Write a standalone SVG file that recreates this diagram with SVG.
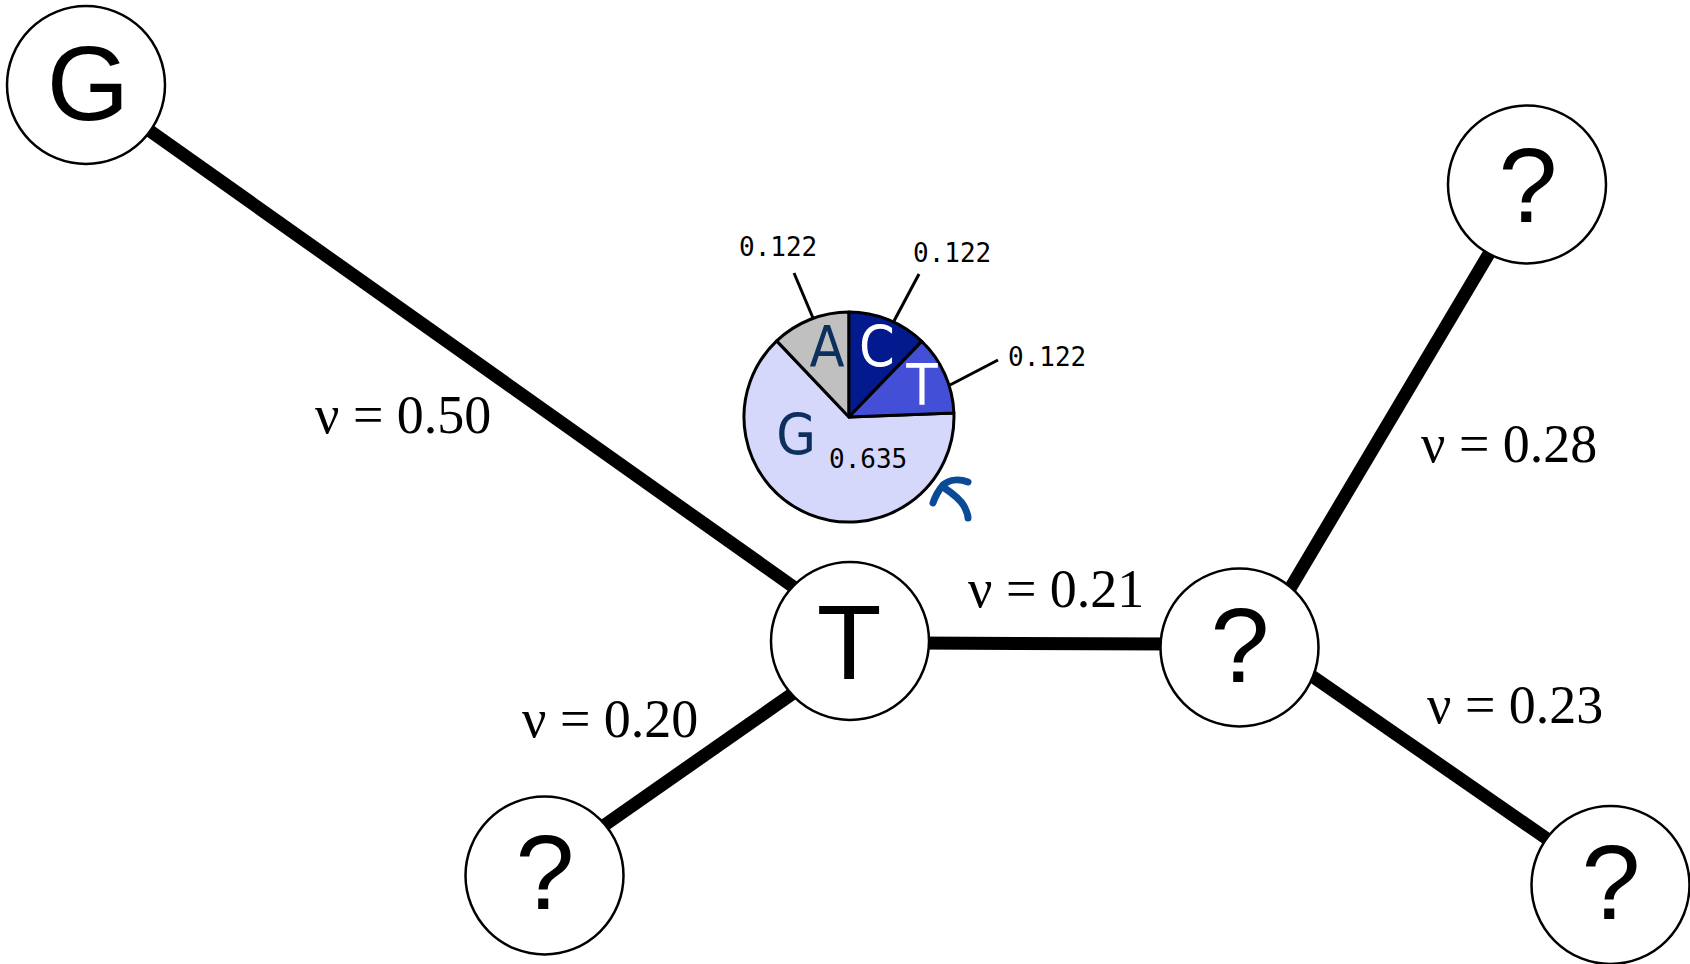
<svg xmlns="http://www.w3.org/2000/svg" width="1690" height="964" viewBox="0 0 1690 964">
<style>
.edge{stroke:#000;stroke-width:13;fill:none}
.node{fill:#fff;stroke:#000;stroke-width:2.5}
.nl{font-family:"Liberation Sans",Arial,sans-serif;font-size:106px;fill:#000;text-anchor:middle}
.el{font-family:"Liberation Serif","Times New Roman",serif;font-size:54px;fill:#000}
.slice{stroke:#000;stroke-width:3;stroke-linejoin:round}
.pl{font-family:"DejaVu Sans Condensed","DejaVu Sans",sans-serif;font-stretch:condensed;font-size:57px;text-anchor:middle}
.num{font-family:"DejaVu Sans Mono","Liberation Mono",monospace;font-size:26px;fill:#000}
.lead{stroke:#000;stroke-width:3}
</style>
<rect width="1690" height="964" fill="#fff"/>
<g id="connectors">
<line class="edge" x1="143" y1="126" x2="802" y2="593"/>
<line class="edge" x1="599" y1="829" x2="802" y2="687"/>
<line class="edge" x1="915" y1="643" x2="1175" y2="644"/>
<line class="edge" x1="1288" y1="592" x2="1490" y2="252"/>
<line class="edge" x1="1309" y1="674" x2="1553" y2="843"/>
</g>
<g id="edge-labels">
<text class="el" x="315" y="433">ν = 0.50</text>
<text class="el" x="968" y="607">ν = 0.21</text>
<text class="el" x="522" y="737">ν = 0.20</text>
<text class="el" x="1421" y="462">ν = 0.28</text>
<text class="el" x="1427" y="723">ν = 0.23</text>
</g>
<g id="node-G">
<circle class="node" cx="86" cy="85" r="79"/>
<text class="nl" x="88" y="120">G</text>
</g>
<g id="node-T">
<circle class="node" cx="850" cy="641" r="79"/>
<text class="nl" x="849" y="679">T</text>
</g>
<g id="node-q-mid">
<circle class="node" cx="1239.5" cy="647.5" r="79"/>
<text class="nl" x="1240" y="682">?</text>
</g>
<g id="node-q-topright">
<circle class="node" cx="1527" cy="184.5" r="79"/>
<text class="nl" x="1528" y="222">?</text>
</g>
<g id="node-q-bottomleft">
<circle class="node" cx="544.5" cy="875.5" r="79"/>
<text class="nl" x="545" y="909">?</text>
</g>
<g id="node-q-bottomright">
<circle class="node" cx="1610.5" cy="885" r="79"/>
<text class="nl" x="1611" y="919">?</text>
</g>
<g id="pie">
<path class="slice" fill="#d5d8fb" d="M849,417 L953.9,413 A105,105 0 1 1 776.7,340.9 Z"/>
<path class="slice" fill="#c0c0c0" d="M849,417 L776.7,340.9 A105,105 0 0 1 849,312 Z"/>
<path class="slice" fill="#021a8e" d="M849,417 L849,312 A105,105 0 0 1 921.8,341.4 Z"/>
<path class="slice" fill="#434fd6" d="M849,417 L921.8,341.4 A105,105 0 0 1 953.9,413 Z"/>
<text class="pl" x="827" y="367" fill="#0d2f5e">A</text>
<text class="pl" x="877" y="367" fill="#fff">C</text>
<text class="pl" x="922" y="405" fill="#fff">T</text>
<text class="pl" x="796" y="455" fill="#0d2f5e">G</text>
<line class="lead" x1="794" y1="273" x2="813" y2="318"/>
<line class="lead" x1="919" y1="274" x2="894" y2="321"/>
<line class="lead" x1="998" y1="360" x2="950" y2="385"/>
<text class="num" x="739" y="256">0.122</text>
<text class="num" x="913" y="262">0.122</text>
<text class="num" x="1008" y="366">0.122</text>
<text class="num" x="829" y="468">0.635</text>
<path d="M968,482 C960,479 950,479 943,485 C938,491 935,497 933,503 M943,487 C952,493 960,499 964,506 C967,512 968,515 968,518" fill="none" stroke="#0a4a96" stroke-width="7" stroke-linecap="round" stroke-linejoin="round"/>
</g>
</svg>
